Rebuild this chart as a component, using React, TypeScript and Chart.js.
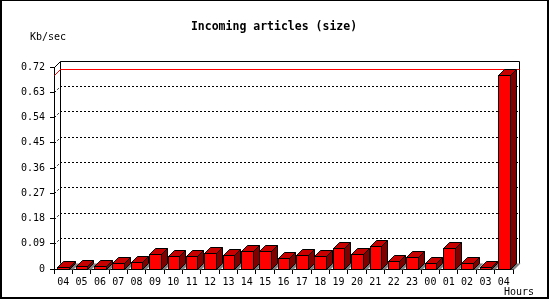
import { useEffect, useRef } from 'react';
import { Chart, registerables } from 'chart.js';

Chart.register(...registerables);

// Hourly incoming volume, oldest hour first
const hours = ['04', '05', '06', '07', '08', '09', '10', '11', '12', '13', '14', '15', '16',
  '17', '18', '19', '20', '21', '22', '23', '00', '01', '02', '03', '04'];
const kbPerSec = [0.007, 0.012, 0.012, 0.02, 0.024, 0.052, 0.045, 0.045, 0.058, 0.05, 0.065, 0.065,
  0.04, 0.051, 0.047, 0.075, 0.054, 0.083, 0.029, 0.043, 0.022, 0.075, 0.022, 0.008, 0.69];
const yTickValues = [0, 0.09, 0.18, 0.27, 0.36, 0.45, 0.54, 0.63, 0.72];

const TITLE = 'Incoming articles (size)';
const Y_UNIT = 'Kb/sec';
const X_UNIT = 'Hours';

const DX = 6; // depth offset, right
const DY = 6; // depth offset, up
const MONO = '"DejaVu Sans Mono", "Liberation Mono", monospace';

const FRONT = '#ff0000';
const TOP = '#c80000';
const SIDE = '#800000';
const SHADOW = '#808080';

const px = (v: number) => Math.round(v) + 0.5;

const depthPlugin = {
  id: 'depth3d',
  beforeDatasetsDraw(chart: any) {
    const { ctx, chartArea: a, scales } = chart;
    const y = scales.y;
    const yMax = yTickValues[yTickValues.length - 1];
    const L = Math.round(a.left), R = Math.round(a.right), T = Math.round(a.top), B = Math.round(a.bottom);
    ctx.save();
    ctx.lineWidth = 1;

    // dotted grid on the back wall, with its short lead-in from the front axis
    ctx.strokeStyle = '#000';
    ctx.setLineDash([2, 2]);
    yTickValues.forEach((v) => {
      if (v <= 0 || v >= yMax) return;
      const gy = Math.round(y.getPixelForValue(v));
      ctx.beginPath();
      ctx.moveTo(L + 0.5, gy + 0.5);
      ctx.lineTo(L + DX + 0.5, gy - DY + 0.5);
      ctx.lineTo(R + DX + 0.5, gy - DY + 0.5);
      ctx.stroke();
    });
    ctx.setLineDash([]);

    // box outline: back wall and corner edges
    ctx.beginPath();
    ctx.moveTo(L + 0.5, T + 0.5);
    ctx.lineTo(L + DX + 0.5, T - DY + 0.5);
    ctx.lineTo(R + DX + 0.5, T - DY + 0.5);
    ctx.lineTo(R + DX + 0.5, B - DY + 0.5);
    ctx.lineTo(R + 0.5, B + 0.5);
    ctx.moveTo(L + DX + 0.5, T - DY + 0.5);
    ctx.lineTo(L + DX + 0.5, B - DY + 0.5);
    ctx.stroke();

    // peak value marker
    const peak = Math.max(...kbPerSec);
    const my = Math.round(y.getPixelForValue(peak));
    ctx.strokeStyle = '#ff0000';
    ctx.beginPath();
    ctx.moveTo(L + 0.5, my + 0.5);
    ctx.lineTo(L + DX + 0.5, my - DY + 0.5);
    ctx.lineTo(R + DX + 0.5, my - DY + 0.5);
    ctx.stroke();

    // bars: floor shadow, side, top and front faces
    const meta = chart.getDatasetMeta(0);
    meta.data.forEach((bar: any) => {
      const p = bar.getProps(['x', 'y', 'base', 'width'], true);
      const xl = Math.round(p.x - p.width / 2);
      const xr = Math.round(p.x + p.width / 2);
      const yt = Math.round(p.y);
      const yb = Math.round(p.base);

      ctx.fillStyle = SHADOW;
      ctx.beginPath();
      ctx.moveTo(xr + 0.5, yb + 0.5);
      ctx.lineTo(xr + DX + 0.5, yb - DY + 0.5);
      ctx.lineTo(xr + DX + 4.5, yb - DY + 0.5);
      ctx.lineTo(xr + 4.5, yb + 0.5);
      ctx.closePath();
      ctx.fill();

      ctx.strokeStyle = '#000';
      ctx.fillStyle = SIDE;
      ctx.beginPath();
      ctx.moveTo(xr + 0.5, yt + 0.5);
      ctx.lineTo(xr + DX + 0.5, yt - DY + 0.5);
      ctx.lineTo(xr + DX + 0.5, yb - DY + 0.5);
      ctx.lineTo(xr + 0.5, yb + 0.5);
      ctx.closePath();
      ctx.fill();
      ctx.stroke();

      ctx.fillStyle = TOP;
      ctx.beginPath();
      ctx.moveTo(xl + 0.5, yt + 0.5);
      ctx.lineTo(xl + DX + 0.5, yt - DY + 0.5);
      ctx.lineTo(xr + DX + 0.5, yt - DY + 0.5);
      ctx.lineTo(xr + 0.5, yt + 0.5);
      ctx.closePath();
      ctx.fill();
      ctx.stroke();

      ctx.fillStyle = FRONT;
      ctx.fillRect(xl, yt, xr - xl + 1, yb - yt + 1);
      ctx.strokeRect(xl + 0.5, yt + 0.5, xr - xl, yb - yt);
    });
    ctx.restore();
    // faces are fully drawn above
    return false;
  },
  afterDraw(chart: any) {
    const { ctx, width, height } = chart;
    ctx.save();
    ctx.fillStyle = '#000';
    ctx.textBaseline = 'middle';
    ctx.font = `bold 11.5px ${MONO}`;
    ctx.textAlign = 'center';
    ctx.fillText(TITLE, 274, 27);
    ctx.font = `10px ${MONO}`;
    ctx.textAlign = 'left';
    ctx.fillText(Y_UNIT, 30, 37);
    ctx.fillText(X_UNIT, 504, 292);

    // image frame
    ctx.fillRect(0, 0, width - 1, 1);
    ctx.fillRect(0, 0, 2, height - 1);
    ctx.fillRect(width - 3, 0, 2, height - 1);
    ctx.fillRect(0, height - 3, width - 1, 2);
    ctx.restore();
  },
};

export default function App() {
  const canvasRef = useRef<HTMLCanvasElement | null>(null);

  useEffect(() => {
    const canvas = canvasRef.current;
    if (!canvas) return;
    const chart = new Chart(canvas, {
      type: 'bar',
      data: {
        labels: hours,
        datasets: [{
          data: kbPerSec,
          backgroundColor: FRONT,
          borderColor: '#000',
          borderWidth: 1,
          barPercentage: 0.63,
          categoryPercentage: 1,
        }],
      },
      options: {
        responsive: false,
        animation: false,
        devicePixelRatio: 1,
        layout: { padding: { top: 67, right: 37, left: 0, bottom: 0 } },
        plugins: { legend: { display: false }, tooltip: { enabled: false }, title: { display: false } },
        scales: {
          x: {
            afterFit: (s: any) => { s.height = 31; },
            grid: { display: true, drawOnChartArea: false, drawTicks: true, tickLength: 5, tickColor: '#000', offset: true },
            border: { display: true, color: '#000', width: 1 },
            ticks: { color: '#000', font: { family: MONO, size: 10 }, padding: 2, maxRotation: 0, autoSkip: false },
          },
          y: {
            min: 0,
            max: 0.72,
            afterFit: (s: any) => { s.width = 54; },
            afterBuildTicks: (s: any) => { s.ticks = yTickValues.map((v) => ({ value: v })); },
            grid: { display: true, drawOnChartArea: false, drawTicks: true, tickLength: 4, tickColor: '#000' },
            border: { display: true, color: '#000', width: 1 },
            ticks: {
              color: '#000',
              font: { family: MONO, size: 10 },
              padding: 5,
              callback: (v: any) => (Number(v) === 0 ? '0' : Number(v).toFixed(2)),
            },
          },
        },
      },
      plugins: [depthPlugin],
    });
    return () => chart.destroy();
  }, []);

  return (
    <div style={{ position: 'absolute', left: 0, top: 0, width: 550, height: 300, background: '#fff' }}>
      <canvas ref={canvasRef} width={550} height={300} style={{ display: 'block' }} />
    </div>
  );
}
